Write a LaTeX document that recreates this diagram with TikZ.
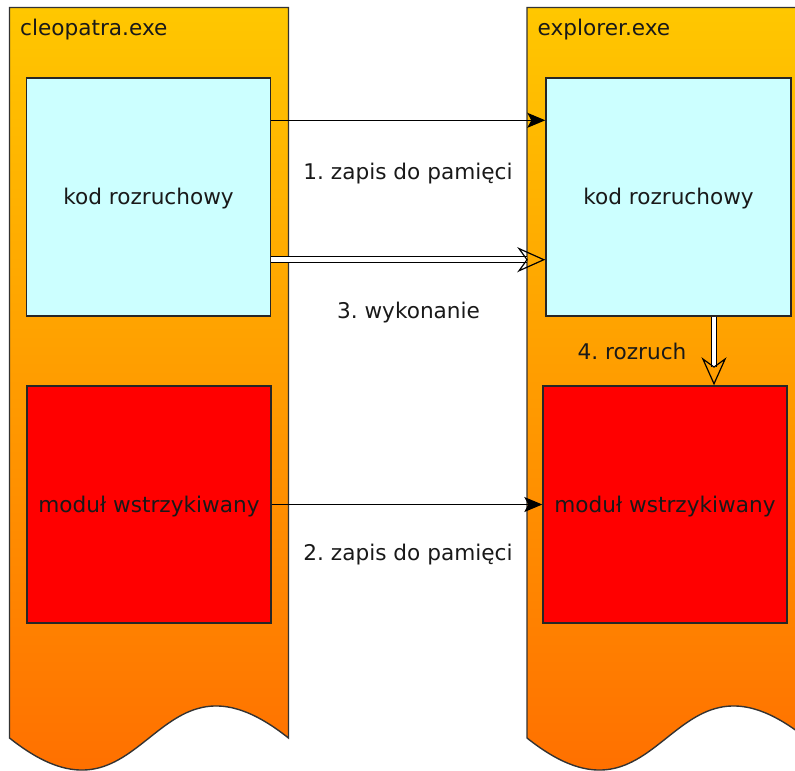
\documentclass[tikz,border=0pt]{standalone}
\usepackage{fontspec}
\setmainfont{DejaVu Sans}
\usetikzlibrary{arrows.meta,calc}
\frenchspacing

\definecolor{bootfill}{RGB}{204,255,255}
\definecolor{injfill}{RGB}{255,0,0}
\definecolor{proctop}{RGB}{255,200,0}
\definecolor{procbot}{RGB}{255,112,0}

% outline of one process column with a torn (wavy) lower edge
\newcommand\procoutline{(0,7.5) -- (279,7.5) -- (279,738)
  .. controls (139.5,627) and (139.5,849) .. (0,738) -- cycle}

\begin{document}
\begin{tikzpicture}[x=1bp,y=-1bp,
  txt/.style={font=\fontsize{21.7}{26}\selectfont, text=black!90, inner sep=0pt},
  procline/.style={draw=black!80, line width=1.4bp},
  region/.style={draw=black!85, line width=1.4bp, inner sep=0pt, txt,
    text height=20bp, text depth=5bp},
  flow/.style={line width=1.3bp, -{Stealth[length=18bp,width=15bp,inset=4bp]}},
  hand/.style={double, double distance=4.5bp, line width=1.2bp,
    -{Stealth[open,length=28bp,width=25bp,inset=9bp,line width=1.2bp]}},
]
\useasboundingbox (0,0) rectangle (795,771);

% the two process columns
\foreach \px in {9.5,527}{
  \begin{scope}[xshift=\px bp]
    \begin{scope}
      \clip \procoutline;
      \shade[top color=proctop, bottom color=procbot] (0,0) rectangle (279,771);
    \end{scope}
    \draw[procline] \procoutline;
  \end{scope}
}

% process names
\node[txt, anchor=west] (nameA) at (20,29.5) {cleopatra.exe};
\node[txt, anchor=west] (nameB) at (537.5,29.5) {explorer.exe};

% memory regions
\node[region, fill=bootfill, minimum width=244bp, minimum height=238bp] (bootA) at (148.5,197) {kod rozruchowy};
\node[region, fill=injfill, minimum width=244bp, minimum height=237bp] (modA) at (149,504.5) {moduł wstrzykiwany};
\node[region, fill=bootfill, minimum width=245bp, minimum height=238bp] (bootB) at (668.5,197) {kod rozruchowy};
\node[region, fill=injfill, minimum width=244bp, minimum height=237bp] (modB) at (665,504.5) {moduł wstrzykiwany};

% connectors
\draw[flow] ([yshift=-43bp]bootA.north east) -- ([yshift=-43bp]bootB.north west);
\draw[hand] ([yshift=57bp]bootA.south east) -- ([yshift=57bp]bootB.south west);
\draw[flow] (modA.east) -- (modB.west);
\coordinate (bootOut) at ([xshift=45.5bp]bootB.south);
\draw[hand] (bootOut) -- (bootOut |- modB.north);

% step labels
\node[txt] (step1) at (408,174) {1. zapis do pamięci};
\node[txt] (step3) at (408.5,313) {3. wykonanie};
\node[txt] (step2) at (408,555) {2. zapis do pamięci};
\node[txt] (step4) at (632,351) {4. rozruch};
\end{tikzpicture}
\end{document}
